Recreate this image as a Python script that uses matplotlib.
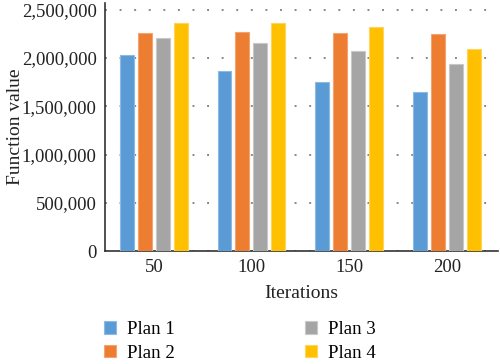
import matplotlib
matplotlib.use("Agg")
import matplotlib.pyplot as plt
import numpy as np

plt.rcParams['font.family'] = ['Liberation Serif', 'DejaVu Serif']

iterations = ['50', '100', '150', '200']
plan1 = [2030000, 1870000, 1750000, 1650000]
plan2 = [2260000, 2265000, 2260000, 2250000]
plan3 = [2210000, 2150000, 2075000, 1940000]
plan4 = [2360000, 2360000, 2320000, 2090000]
plans = ['Plan 1', 'Plan 2', 'Plan 3', 'Plan 4']
colors = ['#5B9BD5', '#ED7D31', '#A5A5A5', '#FFC000']
edges = ['#8DB9E6', '#F4A470', '#C8C8C8', '#FFD45C']

fig = plt.figure(figsize=(5, 3.64), dpi=100)
ax = fig.add_axes([0.21, 0.31, 0.785, 0.682])

x = np.arange(len(iterations))
step = 0.184
width = 0.143
for i, vals in enumerate([plan1, plan2, plan3, plan4]):
    ax.bar(x + (i - 1.5) * step, vals, width, color=colors[i],
           edgecolor=edges[i], linewidth=0.8, label=plans[i], zorder=3)

ax.set_xlim(-0.5, 3.52)
ax.set_ylim(0, 2570000)
ax.set_yticks(np.arange(0, 2500001, 500000))
ax.set_yticklabels(['0' if v == 0 else f'{v:,}' for v in range(0, 2500001, 500000)])
ax.set_xticks(x)
ax.set_xticklabels(iterations)
ax.tick_params(length=0, labelsize=13.5, colors='#222222', pad=6)
ax.yaxis.grid(True, linestyle=(0, (1, 6.5)), color='#888888', linewidth=1.4, zorder=0)
for s in ['top', 'right']:
    ax.spines[s].set_visible(False)
ax.spines['left'].set_color('#333333')
ax.spines['bottom'].set_color('#333333')
ax.spines['left'].set_linewidth(1.2)
ax.spines['bottom'].set_linewidth(1.2)

ax.set_xlabel('Iterations', fontsize=14, color='#222222', labelpad=6)
ax.set_ylabel('Function value', fontsize=14, color='#222222')
ax.yaxis.set_label_coords(-0.207, 0.5)

fig.legend(loc='upper left', bbox_to_anchor=(104 / 500, 1 - 321 / 364), ncol=2,
           frameon=False, fontsize=13.5, handlelength=0.65, handleheight=0.65,
           columnspacing=6.9, labelspacing=0.35, handletextpad=0.6,
           borderpad=0, borderaxespad=0)

fig.savefig('out.png', dpi=100)
